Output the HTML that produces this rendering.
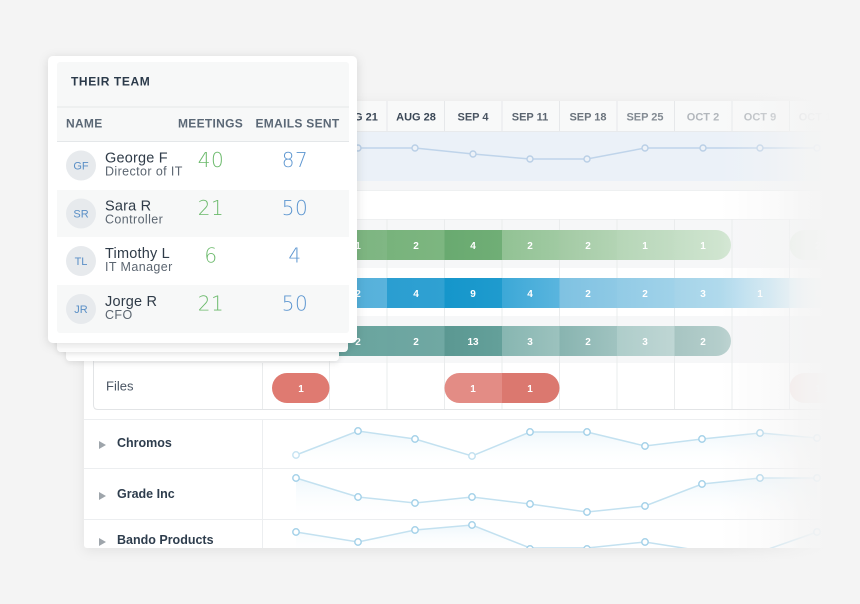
<!DOCTYPE html>
<html><head><meta charset="utf-8"><style>
html,body{margin:0;padding:0;background:#f4f4f4;}
svg{display:block;}
</style></head><body>
<svg width="860" height="604" viewBox="0 0 860 604" xmlns="http://www.w3.org/2000/svg" font-family="'Liberation Sans', sans-serif">
<defs>
<filter id="ps" x="-10%" y="-10%" width="120%" height="130%"><feDropShadow dx="0" dy="3" stdDeviation="6" flood-color="#000" flood-opacity="0.07"/></filter>
<filter id="cs" x="-20%" y="-20%" width="140%" height="150%"><feDropShadow dx="0" dy="2" stdDeviation="5" flood-color="#000" flood-opacity="0.13"/></filter>
<filter id="cs2" x="-20%" y="-40%" width="140%" height="200%"><feDropShadow dx="0" dy="2" stdDeviation="3" flood-color="#000" flood-opacity="0.10"/></filter>
<linearGradient id="fade" gradientUnits="userSpaceOnUse" x1="720" y1="0" x2="832" y2="0">
<stop offset="0" stop-color="#f4f4f4" stop-opacity="0"/>
<stop offset="0.45" stop-color="#f4f4f4" stop-opacity="0.4"/>
<stop offset="0.76" stop-color="#f4f4f4" stop-opacity="0.85"/>
<stop offset="1" stop-color="#f4f4f4" stop-opacity="1"/>
</linearGradient>
<linearGradient id="area" x1="0" y1="0" x2="0" y2="1"><stop offset="0" stop-color="#e6f3fa" stop-opacity="0.7"/><stop offset="1" stop-color="#ffffff" stop-opacity="0"/></linearGradient>
<linearGradient id="g2"><stop offset="0" stop-color="#79b37d"/><stop offset="1" stop-color="#80b784"/></linearGradient>
<linearGradient id="g3"><stop offset="0" stop-color="#78b37c"/><stop offset="1" stop-color="#7db680"/></linearGradient>
<linearGradient id="g4"><stop offset="0" stop-color="#69aa70"/><stop offset="1" stop-color="#70ae76"/></linearGradient>
<linearGradient id="g5"><stop offset="0" stop-color="#92c294"/><stop offset="1" stop-color="#a0caa2"/></linearGradient>
<linearGradient id="g6"><stop offset="0" stop-color="#a3caa4"/><stop offset="1" stop-color="#b3d4b4"/></linearGradient>
<linearGradient id="g7"><stop offset="0" stop-color="#b6d6b7"/><stop offset="1" stop-color="#c3ddc4"/></linearGradient>
<linearGradient id="g8"><stop offset="0" stop-color="#c4dec5"/><stop offset="1" stop-color="#d2e6d2"/></linearGradient>
<linearGradient id="b2"><stop offset="0" stop-color="#4fadd9"/><stop offset="1" stop-color="#5ab3dc"/></linearGradient>
<linearGradient id="b3"><stop offset="0" stop-color="#2a9ed1"/><stop offset="1" stop-color="#30a1d2"/></linearGradient>
<linearGradient id="b4"><stop offset="0" stop-color="#1596cb"/><stop offset="1" stop-color="#1f9bce"/></linearGradient>
<linearGradient id="b5"><stop offset="0" stop-color="#3ca8d7"/><stop offset="1" stop-color="#5ab5de"/></linearGradient>
<linearGradient id="b6"><stop offset="0" stop-color="#7fc2e2"/><stop offset="1" stop-color="#8ec9e5"/></linearGradient>
<linearGradient id="b7"><stop offset="0" stop-color="#92cbe6"/><stop offset="1" stop-color="#a0d2e9"/></linearGradient>
<linearGradient id="b8"><stop offset="0" stop-color="#a5d4e9"/><stop offset="1" stop-color="#b3dbed"/></linearGradient>
<linearGradient id="b9"><stop offset="0" stop-color="#b3dbee"/><stop offset="1" stop-color="#c8e5f2"/></linearGradient>
<linearGradient id="b10"><stop offset="0" stop-color="#d4ebf5"/><stop offset="1" stop-color="#f4f4f4"/></linearGradient>
<linearGradient id="t2"><stop offset="0" stop-color="#68a39d"/><stop offset="1" stop-color="#6ca6a0"/></linearGradient>
<linearGradient id="t3"><stop offset="0" stop-color="#6ca5a0"/><stop offset="1" stop-color="#70a8a3"/></linearGradient>
<linearGradient id="t4"><stop offset="0" stop-color="#5b9892"/><stop offset="1" stop-color="#64a09a"/></linearGradient>
<linearGradient id="t5"><stop offset="0" stop-color="#87b6b1"/><stop offset="1" stop-color="#9cc2be"/></linearGradient>
<linearGradient id="t6"><stop offset="0" stop-color="#88b4b0"/><stop offset="1" stop-color="#a0c3c0"/></linearGradient>
<linearGradient id="t7"><stop offset="0" stop-color="#aecdca"/><stop offset="1" stop-color="#bfd6d4"/></linearGradient>
<linearGradient id="t8"><stop offset="0" stop-color="#a7c5c2"/><stop offset="1" stop-color="#b8d0ce"/></linearGradient>
<clipPath id="cg"><rect x="272" y="230" width="459" height="30" rx="15"/></clipPath>
<clipPath id="cb"><rect x="272" y="278" width="600" height="30" rx="15"/></clipPath>
<clipPath id="ct"><rect x="272" y="326" width="459" height="30" rx="15"/></clipPath>
<clipPath id="cr"><rect x="444.5" y="373" width="115" height="30" rx="15"/></clipPath>
<clipPath id="cp"><rect x="84" y="101" width="776" height="447"/></clipPath>
</defs>

<rect width="860" height="604" fill="#f4f4f4"/>
<rect x="84" y="101" width="800" height="447" rx="3" fill="#ffffff" filter="url(#ps)"/>

<g clip-path="url(#cp)">
<rect x="84" y="101" width="776" height="30" fill="#f8f9f9"/>
<line x1="84" y1="131.5" x2="860" y2="131.5" stroke="#e8eaec"/>
<g stroke="#e6e8ea">
<line x1="329.5" y1="101" x2="329.5" y2="131"/><line x1="387" y1="101" x2="387" y2="131"/><line x1="444.5" y1="101" x2="444.5" y2="131"/><line x1="502" y1="101" x2="502" y2="131"/><line x1="559.5" y1="101" x2="559.5" y2="131"/><line x1="617" y1="101" x2="617" y2="131"/><line x1="674.5" y1="101" x2="674.5" y2="131"/><line x1="732" y1="101" x2="732" y2="131"/><line x1="789.5" y1="101" x2="789.5" y2="131"/>
</g>
<g font-size="11" font-weight="bold" text-anchor="middle">
<text x="301" y="120.5" fill="#3a4756">AUG 14</text>
<text x="358" y="120.5" fill="#3a4756">AUG 21</text>
<text x="416" y="120.5" fill="#3a4756">AUG 28</text>
<text x="473" y="120.5" fill="#4a5562">SEP 4</text>
<text x="530" y="120.5" fill="#5b6570">SEP 11</text>
<text x="588" y="120.5" fill="#6b747d">SEP 18</text>
<text x="645" y="120.5" fill="#838b93">SEP 25</text>
<text x="703" y="120.5" fill="#b2b7bc">OCT 2</text>
<text x="760" y="120.5" fill="#b0b5ba">OCT 9</text>
<text x="818" y="120.5" fill="#c4c8cc">OCT 16</text>
</g>

<rect x="84" y="132" width="776" height="49" fill="#ebf1f8"/>
<polyline points="300,148 358,148 415,148 473,154 530,159 587,159 645,148 703,148 760,148 817,148" fill="none" stroke="#bfd4ea" stroke-width="1.5"/>
<g fill="#edf2f8" stroke="#b9cfe6" stroke-width="1.4">
<circle cx="300" cy="148" r="3"/><circle cx="358" cy="148" r="3"/><circle cx="415" cy="148" r="3"/><circle cx="473" cy="154" r="3"/><circle cx="530" cy="159" r="3"/><circle cx="587" cy="159" r="3"/><circle cx="645" cy="148" r="3"/><circle cx="703" cy="148" r="3"/><circle cx="760" cy="148" r="3"/><circle cx="817" cy="148" r="3"/>
</g>
<rect x="84" y="181" width="776" height="9" fill="#f5f6f7"/>
<line x1="84" y1="190.5" x2="860" y2="190.5" stroke="#eef0f1"/>

<rect x="93" y="219" width="767" height="49" fill="#f6f7f8"/>
<rect x="93" y="316" width="767" height="47" fill="#f6f7f8"/>
<line x1="93" y1="219.5" x2="860" y2="219.5" stroke="#eef0f1"/>
<g stroke="#eaeced">
<line x1="329.5" y1="219" x2="329.5" y2="409"/><line x1="387" y1="219" x2="387" y2="409"/><line x1="444.5" y1="219" x2="444.5" y2="409"/><line x1="502" y1="219" x2="502" y2="409"/><line x1="559.5" y1="219" x2="559.5" y2="409"/><line x1="617" y1="219" x2="617" y2="409"/><line x1="674.5" y1="219" x2="674.5" y2="409"/><line x1="732" y1="219" x2="732" y2="409"/><line x1="789.5" y1="219" x2="789.5" y2="409"/>
<line x1="262.5" y1="363" x2="262.5" y2="409"/>
</g>
<path d="M93.5,190 V405 Q93.5,409.5 98,409.5 H860" fill="none" stroke="#e2e4e6"/>
<line x1="84" y1="419.5" x2="860" y2="419.5" stroke="#eceef0"/>
<line x1="84" y1="468.5" x2="860" y2="468.5" stroke="#eceef0"/>
<line x1="84" y1="519.5" x2="860" y2="519.5" stroke="#eceef0"/>
<g stroke="#eceef0"><line x1="262.5" y1="420" x2="262.5" y2="468"/><line x1="262.5" y1="469" x2="262.5" y2="519"/><line x1="262.5" y1="520" x2="262.5" y2="548"/></g>

<g clip-path="url(#cg)">
<rect x="272" y="230" width="58" height="30" fill="#7ab57e"/>
<rect x="329.5" y="230" width="58" height="30" fill="url(#g2)"/>
<rect x="387" y="230" width="58" height="30" fill="url(#g3)"/>
<rect x="444.5" y="230" width="58" height="30" fill="url(#g4)"/>
<rect x="502" y="230" width="58" height="30" fill="url(#g5)"/>
<rect x="559.5" y="230" width="58" height="30" fill="url(#g6)"/>
<rect x="617" y="230" width="58" height="30" fill="url(#g7)"/>
<rect x="674.5" y="230" width="58" height="30" fill="url(#g8)"/>
</g>
<rect x="789.5" y="230" width="57.5" height="30" rx="15" fill="#e3ece3"/>
<g clip-path="url(#cb)">
<rect x="272" y="278" width="58" height="30" fill="#55b0da"/>
<rect x="329.5" y="278" width="58" height="30" fill="url(#b2)"/>
<rect x="387" y="278" width="58" height="30" fill="url(#b3)"/>
<rect x="444.5" y="278" width="58" height="30" fill="url(#b4)"/>
<rect x="502" y="278" width="58" height="30" fill="url(#b5)"/>
<rect x="559.5" y="278" width="58" height="30" fill="url(#b6)"/>
<rect x="617" y="278" width="58" height="30" fill="url(#b7)"/>
<rect x="674.5" y="278" width="58" height="30" fill="url(#b8)"/>
<rect x="732" y="278" width="58" height="30" fill="url(#b9)"/>
<rect x="789.5" y="278" width="45" height="30" fill="url(#b10)"/>
</g>
<g clip-path="url(#ct)">
<rect x="272" y="326" width="58" height="30" fill="#68a39d"/>
<rect x="329.5" y="326" width="58" height="30" fill="url(#t2)"/>
<rect x="387" y="326" width="58" height="30" fill="url(#t3)"/>
<rect x="444.5" y="326" width="58" height="30" fill="url(#t4)"/>
<rect x="502" y="326" width="58" height="30" fill="url(#t5)"/>
<rect x="559.5" y="326" width="58" height="30" fill="url(#t6)"/>
<rect x="617" y="326" width="58" height="30" fill="url(#t7)"/>
<rect x="674.5" y="326" width="58" height="30" fill="url(#t8)"/>
</g>
<rect x="272" y="373" width="57.5" height="30" rx="15" fill="#df7a71"/>
<g clip-path="url(#cr)">
<rect x="444.5" y="373" width="58" height="30" fill="#e38c85"/>
<rect x="502" y="373" width="58" height="30" fill="#db786f"/>
</g>
<rect x="789.5" y="373" width="57.5" height="30" rx="15" fill="#f3e3e1"/>

<g font-size="10" font-weight="bold" fill="#ffffff" text-anchor="middle">
<text x="358" y="249">1</text><text x="416" y="249">2</text><text x="473" y="249">4</text><text x="530" y="249">2</text><text x="588" y="249">2</text><text x="645" y="249">1</text><text x="703" y="249">1</text><text x="818" y="249" fill-opacity="0.6">2</text>
<text x="358" y="297">2</text><text x="416" y="297">4</text><text x="473" y="297">9</text><text x="530" y="297">4</text><text x="588" y="297">2</text><text x="645" y="297">2</text><text x="703" y="297">3</text><text x="760" y="297">1</text><text x="818" y="297" fill-opacity="0.6">6</text>
<text x="358" y="345">2</text><text x="416" y="345">2</text><text x="473" y="345">13</text><text x="530" y="345">3</text><text x="588" y="345">2</text><text x="645" y="345">3</text><text x="703" y="345">2</text>
<text x="301" y="392">1</text><text x="473" y="392">1</text><text x="530" y="392">1</text><text x="818" y="392" fill-opacity="0.6">1</text>
</g>

<text x="106" y="390.5" font-size="13" fill="#4a5563">Files</text>

<g fill="#9ea5ab">
<polygon points="99,441 106,445 99,449"/>
<polygon points="99,492 106,496 99,500"/>
<polygon points="99,538 106,542 99,546"/>
</g>
<g font-size="12.5" font-weight="bold" fill="#2e3d4d">
<text x="117" y="447">Chromos</text>
<text x="117" y="498">Grade Inc</text>
<text x="117" y="544">Bando Products</text>
</g>

<polygon points="296,455 358,431 415,439 472,456 530,432 587,432 645,446 702,439 760,433 817,438 817,468 296,468" fill="url(#area)"/>
<polygon points="296,478 358,497 415,503 472,497 530,504 587,512 645,506 702,484 760,478 817,478 817,519 296,519" fill="url(#area)"/>
<polygon points="296,532 358,542 415,530 472,525 530,548 587,548 645,542 702,551 760,552 817,532 817,548 296,548" fill="url(#area)"/>
<g fill="none" stroke="#c3e1f0" stroke-width="1.5">
<polyline points="296,455 358,431 415,439 472,456 530,432 587,432 645,446 702,439 760,433 817,438"/>
<polyline points="296,478 358,497 415,503 472,497 530,504 587,512 645,506 702,484 760,478 817,478"/>
<polyline points="296,532 358,542 415,530 472,525 530,548 587,548 645,542 702,551 760,552 817,532"/>
</g>
<g fill="#ffffff" stroke="#a6d2e9" stroke-width="1.5">
<circle cx="296" cy="455" r="3.2" stroke="#c8e4f2"/><circle cx="358" cy="431" r="3.2"/><circle cx="415" cy="439" r="3.2"/><circle cx="472" cy="456" r="3.2" stroke="#c3e1f0"/><circle cx="530" cy="432" r="3.2"/><circle cx="587" cy="432" r="3.2"/><circle cx="645" cy="446" r="3.2"/><circle cx="702" cy="439" r="3.2"/><circle cx="760" cy="433" r="3.2"/><circle cx="817" cy="438" r="3.2"/>
<circle cx="296" cy="478" r="3.2"/><circle cx="358" cy="497" r="3.2"/><circle cx="415" cy="503" r="3.2"/><circle cx="472" cy="497" r="3.2"/><circle cx="530" cy="504" r="3.2"/><circle cx="587" cy="512" r="3.2"/><circle cx="645" cy="506" r="3.2"/><circle cx="702" cy="484" r="3.2"/><circle cx="760" cy="478" r="3.2"/><circle cx="817" cy="478" r="3.2"/>
<circle cx="296" cy="532" r="3.2"/><circle cx="358" cy="542" r="3.2"/><circle cx="415" cy="530" r="3.2"/><circle cx="472" cy="525" r="3.2"/><circle cx="530" cy="549" r="3.2"/><circle cx="587" cy="549" r="3.2"/><circle cx="645" cy="542" r="3.2"/><circle cx="817" cy="532" r="3.2"/>
</g>
</g>

<rect x="700" y="85" width="160" height="519" fill="url(#fade)"/>

<rect x="66" y="300" width="273" height="61" rx="4" fill="#ffffff" filter="url(#cs2)"/>
<rect x="57" y="300" width="291" height="52" rx="4" fill="#ffffff" filter="url(#cs2)"/>
<rect x="48" y="56" width="309" height="287" rx="5" fill="#ffffff" filter="url(#cs)"/>
<rect x="57" y="62" width="292" height="271" rx="3" fill="#f7f8f8"/>
<line x1="57" y1="107" x2="349" y2="107" stroke="#e4e7e9"/>
<line x1="57" y1="141.5" x2="349" y2="141.5" stroke="#e4e7e9"/>
<rect x="57" y="142" width="292" height="48" fill="#ffffff"/>
<rect x="57" y="237" width="292" height="48" fill="#ffffff"/>

<text x="71" y="85.7" font-size="12" font-weight="bold" fill="#2b3a4a" letter-spacing="0.6">THEIR TEAM</text>
<g font-size="12" font-weight="bold" fill="#5b6876" letter-spacing="0.3">
<text x="66" y="127.7">NAME</text>
<text x="178" y="127.7">MEETINGS</text>
<text x="255.5" y="127.7">EMAILS SENT</text>
</g>

<g fill="#e7eaed">
<circle cx="81" cy="165.5" r="15"/><circle cx="81" cy="213.5" r="15"/><circle cx="81" cy="261" r="15"/><circle cx="81" cy="309" r="15"/>
</g>
<g font-size="11" fill="#5a8fc6" text-anchor="middle">
<text x="81" y="169.5">GF</text><text x="81" y="217.5">SR</text><text x="81" y="265">TL</text><text x="81" y="313">JR</text>
</g>
<g font-size="14.5" fill="#2f3b48" letter-spacing="0.2">
<text x="105" y="162.5">George F</text><text x="105" y="210.5">Sara R</text><text x="105" y="258">Timothy L</text><text x="105" y="306">Jorge R</text>
</g>
<g font-size="12.5" fill="#5c6671" letter-spacing="0.4">
<text x="105" y="175.5">Director of IT</text><text x="105" y="223.5">Controller</text><text x="105" y="271">IT Manager</text><text x="105" y="319">CFO</text>
</g>
<g font-family="'DejaVu Sans', 'Liberation Sans', sans-serif" font-weight="200" font-size="20" fill="#6cba6c" text-anchor="middle" letter-spacing="0.5">
<text x="211" y="167">40</text><text x="211" y="215">21</text><text x="211" y="262.5">6</text><text x="211" y="310.5">21</text>
</g>
<g font-family="'DejaVu Sans', 'Liberation Sans', sans-serif" font-weight="200" font-size="20" fill="#5d96d0" text-anchor="middle" letter-spacing="0.5">
<text x="295" y="167">87</text><text x="295" y="215">50</text><text x="295" y="262.5">4</text><text x="295" y="310.5">50</text>
</g>
</svg>
</body></html>
